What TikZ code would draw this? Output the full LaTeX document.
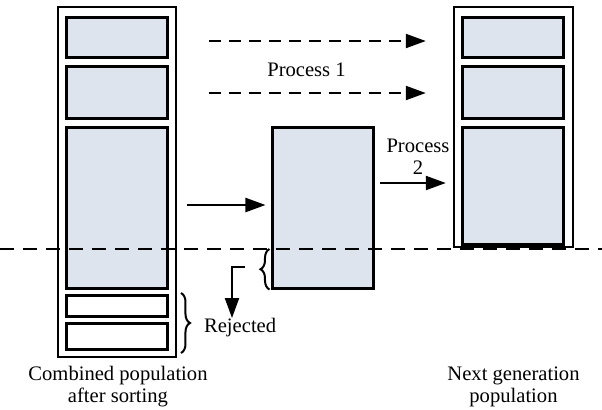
\documentclass[tikz,border=0pt]{standalone}
\usepackage{fontspec}
\setmainfont{Liberation Serif}
\usetikzlibrary{arrows.meta,decorations.pathreplacing}
\definecolor{popfill}{RGB}{221,228,238}
\begin{document}
\begin{tikzpicture}[x=0.5pt, y=-0.5pt, line width=1.1pt,
		column/.style={draw, rectangle, inner sep=0pt, minimum width=59pt, line width=1.2pt},
		member/.style={draw, rectangle, fill=popfill, inner sep=0pt, minimum width=50.5pt, line width=1.5pt},
		reject/.style={member, fill=white},
		arr/.style={-{Triangle[length=10pt,width=7pt]}},
		dasharr/.style={arr, dash pattern=on 6pt off 4pt},
		brace/.style={decorate, decoration={brace, amplitude=4.5pt}, line width=1pt},
		txt/.style={font=\fontsize{10.3}{11}\selectfont, align=center, inner sep=0pt}]
	\useasboundingbox (0,0) rectangle (602,409);
	
	%combined population
	\node[column, minimum height=175pt] (combined) at (117,182) {};
	\node[member, minimum height=20pt] (c1) at (117.5,37) {};
	\node[member, minimum height=26pt] (c2) at (117.5,92) {};
	\node[member, minimum height=80.5pt] (c3) at (117.5,207.5) {};
	\node[reject, minimum height=10.5pt] (c4) at (117.5,305.5) {};
	\node[reject, minimum height=13pt] (c5) at (117.5,336) {};
	\node[txt] (combinedlbl) at (118,387) {Combined population\\after sorting};
	
	%next generation
	\node[column, minimum width=59.5pt, minimum height=120pt] (next) at (513.5,127) {};
	\node[member, minimum height=20pt] (n1) at (513.5,37) {};
	\node[member, minimum height=26pt] (n2) at (513.5,92) {};
	\node[member, minimum height=58.5pt] (n3) at (513.5,185.5) {};
	\node[txt] (nextlbl) at (513.5,387) {Next generation\\population};
	
	%remaining part
	\node[member, minimum height=80.5pt] (kept) at (323.5,207.5) {};
	
	%process 1
	\draw[dasharr, shorten <=16pt, shorten >=13.5pt] (combined.east |- 0,41) -- (next.west |- 0,41);
	\draw[dasharr, shorten <=16pt, shorten >=13.5pt] (combined.east |- 0,93) -- (next.west |- 0,93);
	\node[txt] (proc1) at (306.5,70) {Process 1};
	
	%process 2
	\draw[arr, shorten <=5pt, shorten >=3pt] (combined.east |- 0,205) -- (kept.west |- 0,205);
	\draw[arr, shorten <=2.5pt, shorten >=3.5pt] (kept.east |- 0,183) -- (next.west |- 0,183);
	\node[txt] (proc2) at (418,157) {Process\\2};
	
	%cut line
	\coordinate (cutL) at (0,249);
	\coordinate (cutR) at (602,249);
	\draw[dash pattern=on 7pt off 4.5pt] (cutL) -- (cutR);
	
	%rejected
	\draw[brace] ([xshift=-1pt]kept.south west) -- ([xshift=-1pt]kept.west |- cutL);
	\coordinate (tip) at (245,267);
	\coordinate (down) at (232,318);
	\draw[arr] (tip) -| (down);
	\draw[brace] (181,293) -- (181,353);
	\node[txt, anchor=west] (rejected) at (203,328) {Rejected};
\end{tikzpicture}
\end{document}
